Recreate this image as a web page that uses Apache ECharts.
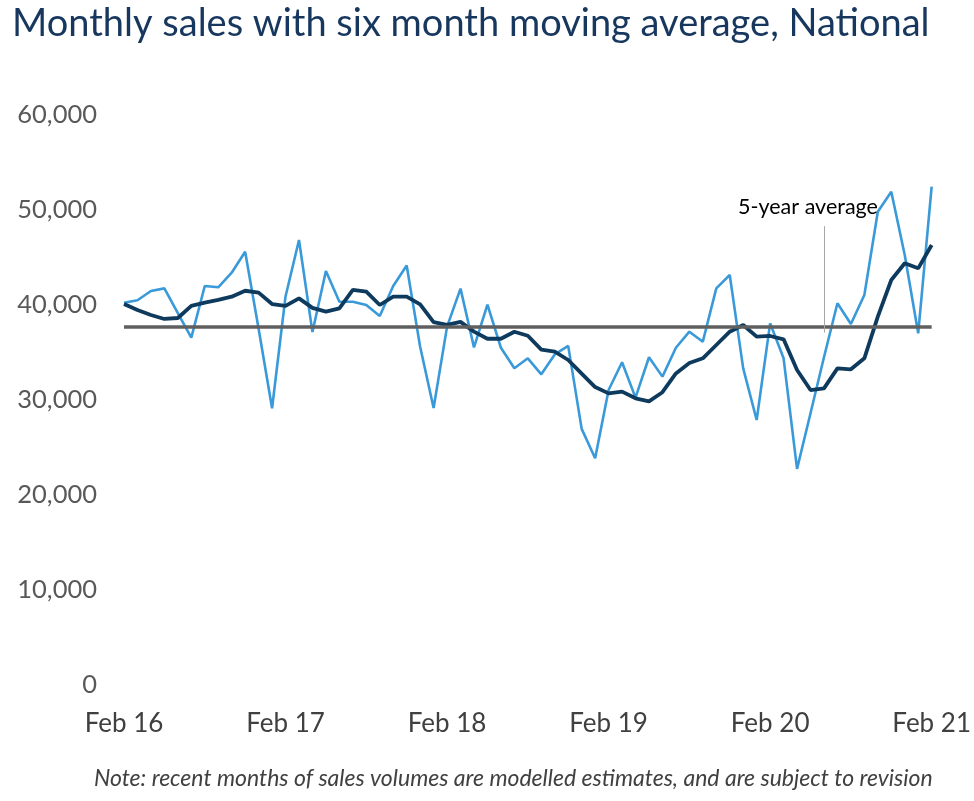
<!DOCTYPE html>
<html>
<head>
<meta charset="utf-8">
<script src="https://cdn.jsdelivr.net/npm/echarts@6/dist/echarts.min.js"></script>
<style>
html,body{margin:0;padding:0;background:#fff;}
#chart{width:974px;height:801px;}
</style>
</head>
<body>
<div id="chart"></div>
<script>
// ---- data ----
var monthNames = ['Feb','Mar','Apr','May','Jun','Jul','Aug','Sep','Oct','Nov','Dec','Jan'];
var startYear = 16;
var categories = [];
for (var k = 0; k < 61; k++) {
  var yr = startYear + Math.floor((k + 1) / 12);
  categories.push(monthNames[k % 12] + ' ' + yr);
}
var monthlySales = [
  40240, 40500, 41470, 41750, 39150, 36560, 42000, 41860, 43400, 45600,
  37500, 29130, 40900, 46840, 37150, 43580, 40350, 40350, 40000, 38840,
  42000, 44150, 35600, 29150, 37720, 41720, 35540, 40050, 35500, 33350,
  34390, 32700, 34800, 35700, 26960, 23860, 31050, 33970, 30250, 34500,
  32460, 35500, 37190, 36140, 41750, 43160, 33330, 27890, 38070, 34390,
  22750, 28600, 34500, 40180, 38000, 41050, 49820, 51930, 45260, 37020,
  52460
];
var movingAverage = [
  40100, 39470, 38950, 38530, 38630, 39900, 40250, 40530, 40880, 41500,
  41300, 40100, 39900, 40700, 39700, 39300, 39650, 41580, 41400, 40000,
  40880, 40880, 40070, 38200, 37900, 38220, 37200, 36450, 36450, 37190,
  36760, 35300, 35090, 34210, 32780, 31360, 30700, 30880, 30180, 29860,
  30820, 32800, 33900, 34390, 35790, 37190, 37890, 36670, 36740, 36390,
  33160, 31050, 31230, 33330, 33230, 34390, 38770, 42630, 44390, 43860,
  46320
];
var fiveYearAverage = 37700;
var annotationText = '5-year average';
var annotationCategory = 'Jun 20';
var annotationTop = 48300;
var yTicks = [0, 10000, 20000, 30000, 40000, 50000, 60000];

var FONT = 'Lato, "Open Sans", sans-serif';
var chart = echarts.init(document.getElementById('chart'), null, {renderer: 'canvas'});
chart.setOption({
  animation: false,
  backgroundColor: '#ffffff',
  title: {
    text: 'Monthly sales with six month moving average, National',
    left: 7, top: 0,
    textStyle: {fontFamily: FONT, fontSize: 38, fontWeight: 'normal', color: '#17375E'}
  },
  graphic: [{
    type: 'text',
    left: 94, top: 767,
    style: {
      text: 'Note: recent months of sales volumes are modelled estimates, and are subject to revision',
      font: 'italic 23px ' + FONT,
      fill: '#404040'
    }
  }],
  grid: {left: 124, right: 42, top: 115, bottom: 116, containLabel: false},
  xAxis: {
    type: 'category',
    data: categories,
    boundaryGap: false,
    axisLine: {show: false},
    axisTick: {show: false},
    axisLabel: {
      interval: 11, margin: 26,
      fontFamily: FONT, fontSize: 26, color: '#404040'
    },
    splitLine: {show: false}
  },
  yAxis: {
    type: 'value',
    min: yTicks[0], max: yTicks[yTicks.length - 1], interval: 10000,
    axisLine: {show: false},
    axisTick: {show: false},
    splitLine: {show: false},
    axisLabel: {
      margin: 27,
      fontFamily: FONT, fontSize: 25.5, color: '#595959',
      formatter: function (v) { return v.toLocaleString('en-US'); }
    }
  },
  series: [
    {
      name: 'Monthly sales',
      type: 'line',
      data: monthlySales,
      symbol: 'none',
      lineStyle: {color: '#3A9AD9', width: 2.6},
      z: 3,
      markLine: {
        silent: true,
        symbol: 'none',
        animation: false,
        data: [
          {yAxis: fiveYearAverage, lineStyle: {color: '#5F5F5F', width: 3.5, type: 'solid'}, label: {show: false}},
          [
            {coord: [annotationCategory, annotationTop], lineStyle: {color: '#A6A6A6', width: 1, type: 'solid'},
             label: {show: true, position: 'start', formatter: annotationText, fontFamily: FONT, fontSize: 21.5, color: '#000000', offset: [-16, -3]}},
            {coord: [annotationCategory, fiveYearAverage - 600]}
          ]
        ]
      }
    },
    {
      name: 'Six month moving average',
      type: 'line',
      data: movingAverage,
      symbol: 'none',
      lineStyle: {color: '#0E3A5E', width: 3.8},
      z: 4
    }
  ]
});
</script>
</body>
</html>
